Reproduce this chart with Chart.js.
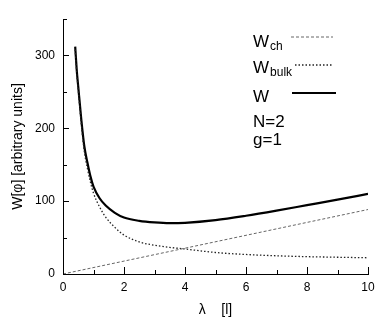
<!DOCTYPE html>
<html>
<head>
<meta charset="utf-8">
<script src="https://cdn.jsdelivr.net/npm/chart.js@4/dist/chart.umd.min.js"></script>
<style>
  html, body { margin: 0; padding: 0; background: #fff; }
</style>
</head>
<body>
<canvas id="chart" width="382" height="327"></canvas>
<script>
// values
const lambdaVals = [0.4, 0.45, 0.5, 0.6, 0.7, 0.8, 0.9, 1.0, 1.2, 1.4, 1.7, 2.0, 2.5, 3.0, 3.5, 4.0, 5, 6, 7, 8, 9, 10];
const wBulk  = [308, 276, 253, 206, 168, 145, 126, 111, 92, 78, 64, 53.5, 44, 39.5, 36.5, 34.3, 29.5, 26.8, 25, 23.8, 23, 22.3];
const wTotal = [312, 280, 257, 212, 175, 153, 134, 120, 104, 94, 84, 77.5, 73, 70.8, 69.8, 70.3, 74, 80, 87, 94.5, 102, 110];
const chLambda = [0, 2, 4, 6, 8, 10];
const wCh = [0, 17.7, 35.4, 53.1, 70.8, 88.5];

const xLabels = [0, 2, 4, 6, 8, 10];
const yLabels = [0, 100, 200, 300];

const legendMain = ["W", "W", "W"];
const legendSub = ["ch", "bulk", ""];
const legendParams = ["N=2", "g=1"];

const FONT = "'Liberation Sans', Arial, Helvetica, sans-serif";

function pts(xs, ys) {
    return xs.map((x, i) => ({ x: x, y: ys[i] }));
}

// inward tick marks
const innerTicks = {
    id: "innerTicks",
    afterDraw(chart) {
        const ctx = chart.ctx;
        const { left, bottom } = chart.chartArea;
        const xs = chart.scales.x, ys = chart.scales.y;
        ctx.save();
        ctx.strokeStyle = "#000";
        ctx.lineWidth = 1;
        ctx.beginPath();
        xs.ticks.forEach(t => {
            const px = Math.round(xs.getPixelForValue(t.value)) + 0.5;
            const len = xLabels.includes(t.value) ? 7 : 4;
            ctx.moveTo(px, bottom);
            ctx.lineTo(px, bottom - len);
        });
        ys.ticks.forEach(t => {
            const py = Math.round(ys.getPixelForValue(t.value)) + 0.5;
            const len = yLabels.includes(t.value) ? 6 : 4;
            ctx.moveTo(left, py);
            ctx.lineTo(left + len, py);
        });
        ctx.stroke();
        ctx.restore();
    }
};

// legend block in the upper right
const textLegend = {
    id: "textLegend",
    afterDraw(chart) {
        const ctx = chart.ctx;
        const ds = chart.data.datasets;
        const baselines = [47, 73, 102];
        const lineY = [37, 65, 93];
        const lineX = [[291, 333], [295, 333], [292, 336]];
        ctx.save();
        ctx.fillStyle = "#000";
        ctx.textBaseline = "alphabetic";
        legendMain.forEach((m, i) => {
            ctx.font = "17px " + FONT;
            ctx.fillText(m, 253, baselines[i]);
            if (legendSub[i]) {
                const w = ctx.measureText(m).width;
                ctx.font = "12px " + FONT;
                ctx.fillText(legendSub[i], 253 + w + 1, baselines[i] + 3);
            }
            const d = ds[i];
            ctx.strokeStyle = d.borderColor;
            ctx.lineWidth = d.borderWidth;
            ctx.setLineDash(d.borderDash || []);
            ctx.beginPath();
            ctx.moveTo(lineX[i][0], lineY[i]);
            ctx.lineTo(lineX[i][1], lineY[i]);
            ctx.stroke();
            ctx.setLineDash([]);
        });
        ctx.font = "17px " + FONT;
        ctx.fillText(legendParams[0], 253, 127);
        ctx.fillText(legendParams[1], 253, 145);
        ctx.restore();
    }
};

new Chart(document.getElementById("chart"), {
    type: "scatter",
    data: {
        datasets: [
            {
                label: "Wch",
                data: pts(chLambda, wCh),
                showLine: true,
                borderColor: "#666",
                borderWidth: 1,
                borderDash: [3, 2],
                pointRadius: 0
            },
            {
                label: "Wbulk",
                data: pts(lambdaVals, wBulk),
                showLine: true,
                borderColor: "#222",
                borderWidth: 1.3,
                borderDash: [1.5, 2],
                pointRadius: 0,
                cubicInterpolationMode: "monotone"
            },
            {
                label: "W",
                data: pts(lambdaVals, wTotal),
                showLine: true,
                borderColor: "#000",
                borderWidth: 2.2,
                pointRadius: 0,
                cubicInterpolationMode: "monotone"
            }
        ]
    },
    options: {
        responsive: false,
        animation: false,
        devicePixelRatio: 1,
        layout: { padding: { top: 19, right: 14, left: 0, bottom: 0 } },
        plugins: {
            legend: { display: false },
            tooltip: { enabled: false }
        },
        scales: {
            x: {
                type: "linear",
                min: 0,
                max: 10,
                afterFit: s => { s.height = 53; },
                grid: { display: false, drawTicks: false },
                border: { display: true, color: "#000", width: 1 },
                ticks: {
                    stepSize: 1,
                    padding: 6,
                    color: "#000",
                    font: { family: FONT, size: 12 },
                    callback: v => xLabels.includes(v) ? v : ""
                },
                title: {
                    display: true,
                    text: "λ    [l]",
                    color: "#000",
                    font: { family: FONT, size: 14 },
                    padding: { top: 0, bottom: 8 }
                }
            },
            y: {
                min: 0,
                max: 350,
                afterFit: s => { s.width = 63; },
                grid: { display: false, drawTicks: false },
                border: { display: true, color: "#000", width: 1 },
                ticks: {
                    stepSize: 50,
                    padding: 8,
                    color: "#000",
                    font: { family: FONT, size: 12 },
                    callback: v => yLabels.includes(v) ? v : ""
                },
                title: {
                    display: true,
                    text: "W[φ] [arbitrary units]",
                    color: "#000",
                    font: { family: FONT, size: 14 },
                    padding: { top: 10, bottom: 0 }
                }
            }
        }
    },
    plugins: [innerTicks, textLegend]
});
</script>
</body>
</html>
